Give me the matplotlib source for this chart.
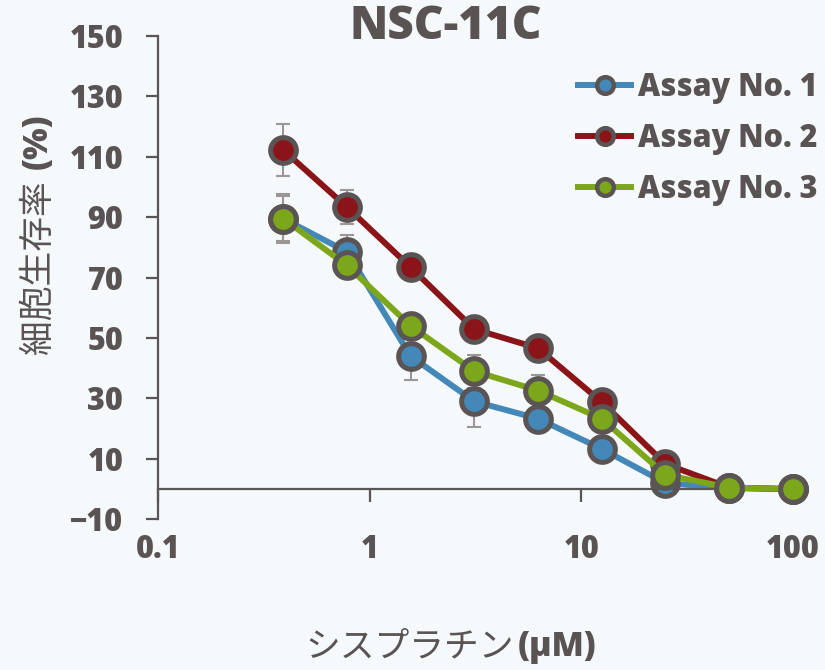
#!usr/bin/env python
#-*- coding:utf-8 -*-

# cell viability vs cisplatin concentration, NSC-11C

import matplotlib
matplotlib.use('Agg')
import matplotlib.pyplot as plt
from matplotlib.lines import Line2D


conc = [0.390625, 0.78125, 1.5625, 3.125, 6.25, 12.5, 25, 50, 100]

assay1 = [89.5, 78.5, 44.0, 29.0, 23.3, 13.3, 2.0, 0.3, 0.0]
assay2 = [112.2, 93.3, 73.4, 52.9, 46.6, 28.8, 8.3, 0.5, 0.0]
assay3 = [89.5, 74.0, 54.0, 39.0, 32.6, 23.3, 4.7, 0.5, 0.0]

err1 = [8.0, 5.5, 8.0, 8.5, 3.0, 2.0, 1.0, 0.5, 0.3]
err2 = [8.5, 5.6, 3.0, 3.0, 2.0, 2.0, 1.0, 0.5, 0.3]
err3 = [7.5, 3.0, 3.0, 5.5, 5.3, 2.0, 1.0, 0.5, 0.3]

labels = ['Assay No. 1', 'Assay No. 2', 'Assay No. 3']
colors = ['#4487b9', '#8a1418', '#7da71a']

xticks = [0.1, 1, 10, 100]
xticklabels = ['0.1', '1', '10', '100']
yticks = list(range(-10, 151, 20))

TXT = '#595353'
EDGE = '#5a5454'
BG = '#f5f9fc'
FONT = 'Open Sans'
CJK = ['Noto Sans CJK JP', 'DejaVu Sans']


def drawChart(out_path):
	fig = plt.figure(figsize=(8.25, 6.7), dpi=100, facecolor=BG)
	ax = fig.add_axes([0.1915, 0.2249, 0.7695, 0.7218])
	ax.set_facecolor(BG)

	# error bars first so the markers sit on top
	for ys, es in zip([assay1, assay2, assay3], [err1, err2, err3]):
		ax.errorbar(conc, ys, yerr=es, fmt='none', ecolor='#9c9696',
			elinewidth=1.5, capsize=5, capthick=1.5, zorder=1)

	for i, (ys, c) in enumerate(zip([assay1, assay2, assay3], colors)):
		ax.plot(conc, ys, color=c, lw=4.3, marker='o', ms=18.5, mfc=c,
			mec=EDGE, mew=3.6, zorder=2 + i, clip_on=False)

	ax.set_xscale('log')
	ax.set_xlim(0.1, 100)
	ax.set_ylim(-10, 150)
	ax.set_xticks(xticks)
	ax.set_xticklabels(xticklabels)
	ax.minorticks_off()
	ax.set_yticks(yticks)

	for s in ['top', 'right']:
		ax.spines[s].set_visible(False)
	ax.spines['bottom'].set_position(('data', 0))
	for s in ['left', 'bottom']:
		ax.spines[s].set_color(EDGE)
		ax.spines[s].set_linewidth(1.6)

	ax.tick_params(axis='both', colors=EDGE, width=1.6, length=9,
		labelcolor=TXT, labelsize=22)
	ax.tick_params(axis='y', pad=16)
	ax.tick_params(axis='x', pad=23)
	for lab in ax.get_xticklabels() + ax.get_yticklabels():
		lab.set_fontfamily(FONT)
		lab.set_fontweight('heavy')

	fig.text(446 / 825, 1 - 27 / 670, 'NSC-11C', ha='center', va='center',
		fontsize=33, fontweight='heavy', family=FONT, color=TXT)

	# y label: japanese part regular, unit bold
	fig.text(38 / 825, 1 - 354 / 670, '細胞生存率', ha='center', va='bottom',
		rotation=90, fontsize=25, family=CJK, color=TXT)
	fig.text(38 / 825, 1 - 169 / 670, '(%)', ha='center', va='bottom',
		rotation=90, fontsize=24, family=FONT, fontweight='heavy', color=TXT)
	# x label
	fig.text(514 / 825, 1 - 647 / 670, 'シスプラチン', ha='right', va='center',
		fontsize=25, family=CJK, color=TXT)
	fig.text(518 / 825, 1 - 647 / 670, '(μM)', ha='left', va='center',
		fontsize=24, family=FONT, fontweight='heavy', color=TXT)

	handles = [Line2D([], [], color=c, lw=4.3, marker='o', ms=12, mfc=c,
		mec=EDGE, mew=3.2) for c in colors]
	leg = fig.legend(handles, labels, loc='upper left',
		bbox_to_anchor=(578 / 825, 1 - 72 / 670), frameon=False,
		borderpad=0, borderaxespad=0, handlelength=1.75, handletextpad=0.2,
		labelspacing=0.62, prop={'family': FONT, 'weight': 'heavy', 'size': 22})
	for t in leg.get_texts():
		t.set_color(TXT)

	plt.savefig(out_path, dpi=100, facecolor=BG)

if __name__ == '__main__':
	drawChart('out.png')
